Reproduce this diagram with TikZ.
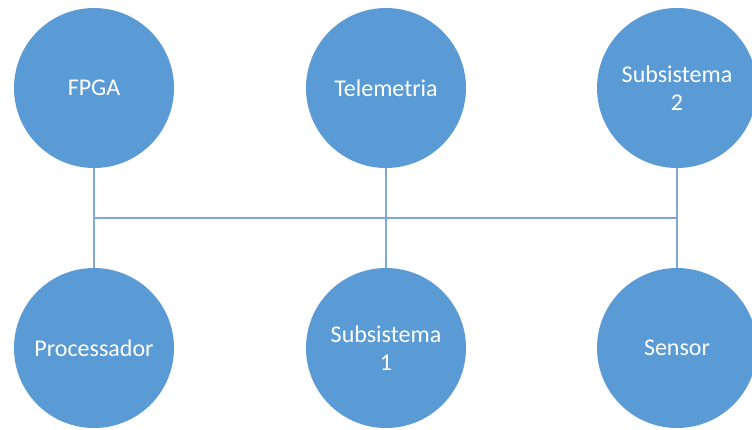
\documentclass[tikz,border=0pt]{standalone}
\usepackage{fontspec}
\setmainfont{Carlito}
\begin{document}
\begin{tikzpicture}[x=1pt,y=-1pt,
  unit/.style={circle, fill=nodeblue, minimum size=160pt, inner sep=0pt,
    text=white, align=center, font=\fontsize{24}{28}\selectfont},
  bus/.style={draw=busblue, line width=1.3pt}]
  \definecolor{nodeblue}{HTML}{5B9BD5}
  \definecolor{busblue}{HTML}{7FA8D8}
  \useasboundingbox (0,0) rectangle (752,429);
  % top row
  \node[unit] (fpga) at (94,88) {FPGA};
  \node[unit] (tele) at (386,88) {Telemetria};
  \node[unit] (sub2) at (677,88) {Subsistema\\2};
  % bottom row
  \node[unit] (proc) at (94,348) {Processador};
  \node[unit] (sub1) at (386,348) {Subsistema\\1};
  \node[unit] (sens) at (677,348) {Sensor};
  % shared bus
  \coordinate (bl) at (94,218);
  \coordinate (bm) at (386,218);
  \coordinate (br) at (677,218);
  \draw[bus] (bl) -- (br);
  \draw[bus] (fpga.south) -- (bl) -- (proc.north);
  \draw[bus] (tele.south) -- (bm) -- (sub1.north);
  \draw[bus] (sub2.south) -- (br) -- (sens.north);
\end{tikzpicture}
\end{document}
